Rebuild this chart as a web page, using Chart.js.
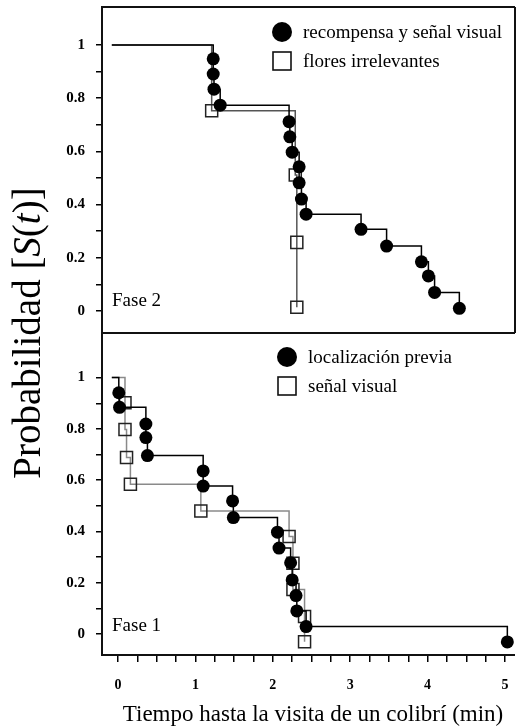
<!DOCTYPE html>
<html lang="es">
<head>
<meta charset="utf-8">
<title>Tiempo hasta la visita de un colibrí</title>
<script src="https://cdn.jsdelivr.net/npm/chart.js@4.4.1/dist/chart.umd.min.js"></script>
<style>
  html, body { margin: 0; padding: 0; background: #fff; }
  #lienzo { position: relative; width: 516px; height: 728px; }
  #lienzo canvas { position: absolute; left: 0; top: 0; }
</style>
</head>
<body>
<div id="lienzo">
  <canvas id="fase1" width="516" height="728"></canvas>
  <canvas id="fase2" width="516" height="728"></canvas>
</div>
<script>
// valores: tiempo (min) y S(t)
const inicio = -0.08;

const fase2RecompensaT = [1.23, 1.23, 1.24, 1.32, 2.21, 2.22, 2.25, 2.34, 2.34, 2.37, 2.43, 3.14, 3.47, 3.92, 4.01, 4.09, 4.41];
const fase2RecompensaS = [0.948, 0.891, 0.834, 0.774, 0.712, 0.655, 0.597, 0.542, 0.482, 0.421, 0.364, 0.307, 0.244, 0.185, 0.132, 0.070, 0.010];
const fase2FloresT = [1.21, 2.29, 2.31, 2.31];
const fase2FloresS = [0.753, 0.511, 0.258, 0.014];

const fase1LocalT = [0.01, 0.02, 0.36, 0.36, 0.38, 1.10, 1.10, 1.48, 1.49, 2.06, 2.08, 2.23, 2.25, 2.30, 2.31, 2.43, 5.03];
const fase1LocalS = [0.941, 0.884, 0.819, 0.766, 0.696, 0.636, 0.577, 0.519, 0.454, 0.397, 0.335, 0.278, 0.211, 0.150, 0.090, 0.029, -0.031];
const fase1SenalT = [0.09, 0.09, 0.11, 0.16, 1.07, 2.21, 2.26, 2.26, 2.41, 2.41];
const fase1SenalS = [0.902, 0.798, 0.688, 0.584, 0.480, 0.380, 0.276, 0.174, 0.068, -0.030];

const xTickLabels = ['0', '1', '2', '3', '4', '5'];
const yTickLabels = ['0', '0.2', '0.4', '0.6', '0.8', '1'];

const xTicks = [];
for (let i = 0; i <= 20; i++) xTicks.push(i / 4);
const yTicks = [];
for (let i = 0; i <= 10; i++) yTicks.push(i / 10);

const serif = '"Liberation Serif", "Times New Roman", serif';

function curva(T, S) {
  return [{x: inicio, y: 1}].concat(T.map((t, i) => ({x: t, y: S[i]})));
}

function serieCirculos(label, T, S) {
  return {
    label: label,
    data: curva(T, S),
    stepped: 'before',
    borderColor: '#000',
    borderWidth: 1.5,
    pointStyle: 'circle',
    pointRadius: c => c.dataIndex === 0 ? 0 : 6.5,
    pointHoverRadius: c => c.dataIndex === 0 ? 0 : 6.5,
    pointBackgroundColor: '#000',
    pointBorderColor: '#000',
    pointBorderWidth: 0
  };
}

function serieCuadros(label, T, S, gris) {
  return {
    label: label,
    data: curva(T, S),
    stepped: 'before',
    borderColor: gris,
    borderWidth: 1.5,
    pointStyle: 'rect',
    pointRadius: c => c.dataIndex === 0 ? 0 : 8.5,
    pointHoverRadius: c => c.dataIndex === 0 ? 0 : 8.5,
    pointBackgroundColor: 'rgba(255,255,255,0)',
    pointBorderColor: '#222',
    pointBorderWidth: 1.5
  };
}

function escalaY(min, max) {
  return {
    type: 'linear',
    position: 'left',
    min: min,
    max: max,
    afterBuildTicks: s => { s.ticks = yTicks.map(v => ({value: v})); },
    afterFit: s => { s.width = 102; s.paddingTop = 0; s.paddingBottom = 0; },
    border: {display: false},
    grid: {drawOnChartArea: false, drawTicks: true, tickLength: 6, color: '#000', lineWidth: 1.5},
    ticks: {
      autoSkip: false,
      padding: 11,
      color: '#000',
      font: {family: serif, size: 15, weight: 'bold'},
      callback: v => yTickLabels.find(l => Math.abs(Number(l) - v) < 1e-6) ?? ''
    }
  };
}

const xMin = -0.207;
const xMax = 5.129;

// marco de cada panel
const marco = {
  id: 'marco',
  beforeDatasetsDraw(chart, args, opts) {
    const {ctx, chartArea: a} = chart;
    ctx.save();
    ctx.strokeStyle = '#111';
    ctx.lineWidth = 2;
    ctx.beginPath();
    opts.lados.forEach(lado => {
      if (lado === 'top') { ctx.moveTo(a.left - 1, a.top); ctx.lineTo(a.right, a.top); }
      if (lado === 'bottom') { ctx.moveTo(a.left - 1, a.bottom); ctx.lineTo(a.right, a.bottom); }
      if (lado === 'left') { ctx.moveTo(a.left, a.top); ctx.lineTo(a.left, a.bottom); }
      if (lado === 'right') { ctx.moveTo(a.right, a.top); ctx.lineTo(a.right, a.bottom); }
    });
    ctx.stroke();
    ctx.restore();
  }
};

// leyenda y rotulo del panel
const leyenda = {
  id: 'leyenda',
  afterDatasetsDraw(chart, args, opts) {
    const ctx = chart.ctx;
    ctx.save();
    ctx.font = '19px ' + serif;
    ctx.fillStyle = '#000';
    ctx.textBaseline = 'middle';
    ctx.textAlign = 'left';
    opts.items.forEach((it, i) => {
      const ds = chart.data.datasets[i];
      if (ds.pointStyle === 'circle') {
        ctx.beginPath();
        ctx.arc(it.x, it.y, 10, 0, Math.PI * 2);
        ctx.fill();
      } else {
        ctx.strokeStyle = '#111';
        ctx.lineWidth = 1.6;
        ctx.strokeRect(it.x - 9, it.y - 9, 18, 18);
      }
      ctx.fillText(ds.label, it.textoX, it.y + 1);
    });
    ctx.textBaseline = 'alphabetic';
    ctx.fillText(opts.panel.texto, opts.panel.x, opts.panel.y);
    ctx.restore();
  }
};

// titulos de los ejes
const titulos = {
  id: 'titulos',
  afterDraw(chart) {
    const ctx = chart.ctx;
    ctx.save();
    ctx.fillStyle = '#000';
    ctx.font = '23px ' + serif;
    ctx.textAlign = 'center';
    ctx.textBaseline = 'alphabetic';
    ctx.fillText('Tiempo hasta la visita de un colibrí (min)', 313, 721);

    const partes = [['Probabilidad [', false], ['S', true], ['(', false], ['t', true], [')]', false]];
    const fuente = it => (it ? 'italic ' : '') + '39px ' + serif;
    let total = 0;
    partes.forEach(p => { ctx.font = fuente(p[1]); total += ctx.measureText(p[0]).width; });
    ctx.translate(40, 333);
    ctx.rotate(-Math.PI / 2);
    ctx.textAlign = 'left';
    let x = -total / 2;
    partes.forEach(p => {
      ctx.font = fuente(p[1]);
      ctx.fillText(p[0], x, 0);
      x += ctx.measureText(p[0]).width;
    });
    ctx.restore();
  }
};

new Chart(document.getElementById('fase2'), {
  type: 'line',
  data: {
    datasets: [
      serieCirculos('recompensa y señal visual', fase2RecompensaT, fase2RecompensaS),
      serieCuadros('flores irrelevantes', fase2FloresT, fase2FloresS, '#555')
    ]
  },
  options: {
    responsive: false,
    animation: false,
    events: [],
    layout: {autoPadding: false, padding: {top: 7, left: 0, right: 1, bottom: 395}},
    scales: {
      x: {type: 'linear', min: xMin, max: xMax, display: false},
      y: escalaY(-0.0827, 1.143)
    },
    plugins: {
      legend: {display: false},
      tooltip: {enabled: false},
      marco: {lados: ['top', 'left', 'right', 'bottom']},
      leyenda: {
        items: [{x: 282, y: 32, textoX: 303}, {x: 282, y: 61, textoX: 303}],
        panel: {texto: 'Fase 2', x: 112, y: 306}
      }
    }
  },
  plugins: [marco, leyenda]
});

new Chart(document.getElementById('fase1'), {
  type: 'line',
  data: {
    datasets: [
      serieCirculos('localización previa', fase1LocalT, fase1LocalS),
      serieCuadros('señal visual', fase1SenalT, fase1SenalS, '#8a8a8a')
    ]
  },
  options: {
    responsive: false,
    animation: false,
    events: [],
    layout: {autoPadding: false, padding: {top: 333, left: 0, right: 1, bottom: 0}},
    scales: {
      x: {
        type: 'linear',
        position: 'bottom',
        min: xMin,
        max: xMax,
        afterBuildTicks: s => { s.ticks = xTicks.map(v => ({value: v})); },
        afterFit: s => { s.height = 73; s.paddingLeft = 0; s.paddingRight = 0; },
        border: {display: false},
        grid: {drawOnChartArea: false, drawTicks: true, tickLength: 7, color: '#000', lineWidth: 1.5},
        ticks: {
          autoSkip: false,
          maxRotation: 0,
          padding: 15,
          color: '#000',
          font: {family: serif, size: 14, weight: 'bold'},
          callback: v => Number.isInteger(v) ? xTickLabels[v] : ''
        }
      },
      y: escalaY(-0.0819, 1.174)
    },
    plugins: {
      legend: {display: false},
      tooltip: {enabled: false},
      marco: {lados: ['left', 'bottom']},
      leyenda: {
        items: [{x: 287, y: 357, textoX: 308}, {x: 287, y: 386, textoX: 308}],
        panel: {texto: 'Fase 1', x: 112, y: 631}
      }
    }
  },
  plugins: [marco, leyenda, titulos]
});
</script>
</body>
</html>
